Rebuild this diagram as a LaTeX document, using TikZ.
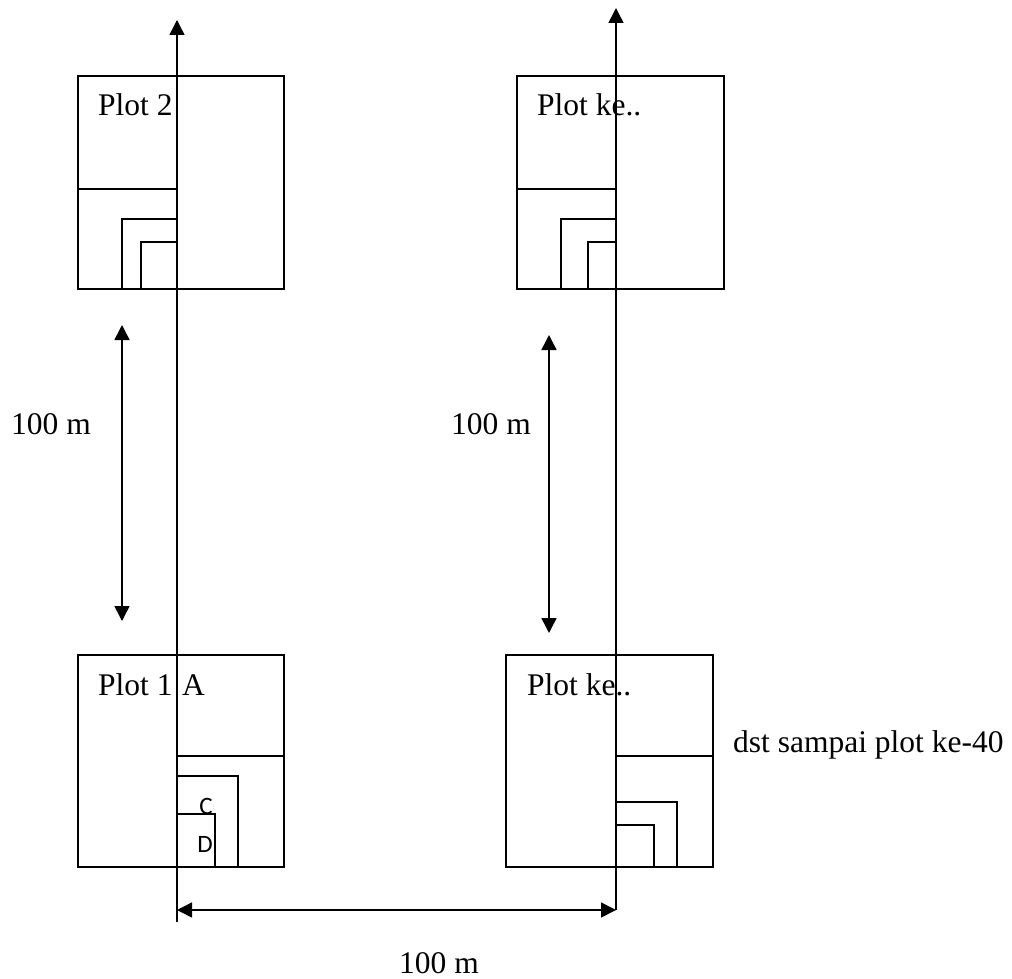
\documentclass[tikz,border=0pt]{standalone}
\usepackage{fontspec}
\setmainfont{Liberation Serif}
\setsansfont{Carlito}
\usetikzlibrary{arrows.meta}
\tikzset{
  plotline/.style={draw, line width=1.5pt},
  axis/.style={plotline, -{Triangle[length=15pt,width=15pt]}},
  span/.style={plotline, {Triangle[length=15pt,width=15pt]}-{Triangle[length=15pt,width=15pt]}},
  plotlabel/.style={inner sep=0pt, anchor=base west, font=\fontsize{31.5}{36}\selectfont},
  sublabel/.style={inner sep=0pt, font=\sffamily\fontsize{25}{28}\selectfont}
}
\begin{document}
\begin{tikzpicture}[x=1pt, y=-1pt]
  \useasboundingbox (0,0) rectangle (1012,979);

  % plot 2
  \draw[plotline] (78,76) rectangle (284,289);
  \draw[plotline] (78,189) -- (177,189);
  \draw[plotline] (122,289) |- (177,219);
  \draw[plotline] (141,289) |- (177,242);
  \node[plotlabel] (plottwo) at (98,116) {Plot 2};

  % plot ke.. (top)
  \draw[plotline] (517,76) rectangle (724,289);
  \draw[plotline] (517,189) -- (616,189);
  \draw[plotline] (561,289) |- (616,219);
  \draw[plotline] (588,289) |- (616,242);
  \node[plotlabel] (plotketop) at (537,116) {Plot ke..};

  % plot 1
  \draw[plotline] (78,655) rectangle (284,867);
  \draw[plotline] (177,756) -- (284,756);
  \draw[plotline] (238,867) |- (177,776);
  \draw[plotline] (215,867) |- (177,814);
  \node[plotlabel] (plotone) at (98,695) {Plot 1};
  \node[plotlabel] (plota) at (182,695) {A};
  \node[sublabel] (labelc) at (206,806) {C};
  \node[sublabel] (labeld) at (205,844) {D};

  % plot ke.. (bottom)
  \draw[plotline] (506,655) rectangle (713,867);
  \draw[plotline] (616,756) -- (713,756);
  \draw[plotline] (677,867) |- (616,802);
  \draw[plotline] (654,867) |- (616,825);
  \node[plotlabel] (plotkebot) at (527,695) {Plot ke..};

  % jalur
  \coordinate (lineastart) at (177,922);
  \coordinate (lineaend) at (177,20);
  \coordinate (linebstart) at (616,910);
  \coordinate (linebend) at (616,8);
  \draw[axis] (lineastart) -- (lineaend);
  \draw[axis] (linebstart) -- (linebend);

  % jarak
  \coordinate (spanatop) at (122,325);
  \coordinate (spanabot) at (122,621);
  \coordinate (spanbtop) at (549,335);
  \coordinate (spanbbot) at (549,633);
  \coordinate (spancleft) at (177,910);
  \coordinate (spancright) at (616,910);
  \draw[span] (spanatop) -- (spanabot);
  \draw[span] (spanbtop) -- (spanbbot);
  \draw[span] (spancleft) -- (spancright);

  \node[plotlabel] (distleft) at (11,434) {100 m};
  \node[plotlabel] (distright) at (451,434) {100 m};
  \node[plotlabel] (distbottom) at (399,973) {100 m};
  \node[plotlabel] (dst) at (733,752) {dst sampai plot ke-40};
\end{tikzpicture}
\end{document}
